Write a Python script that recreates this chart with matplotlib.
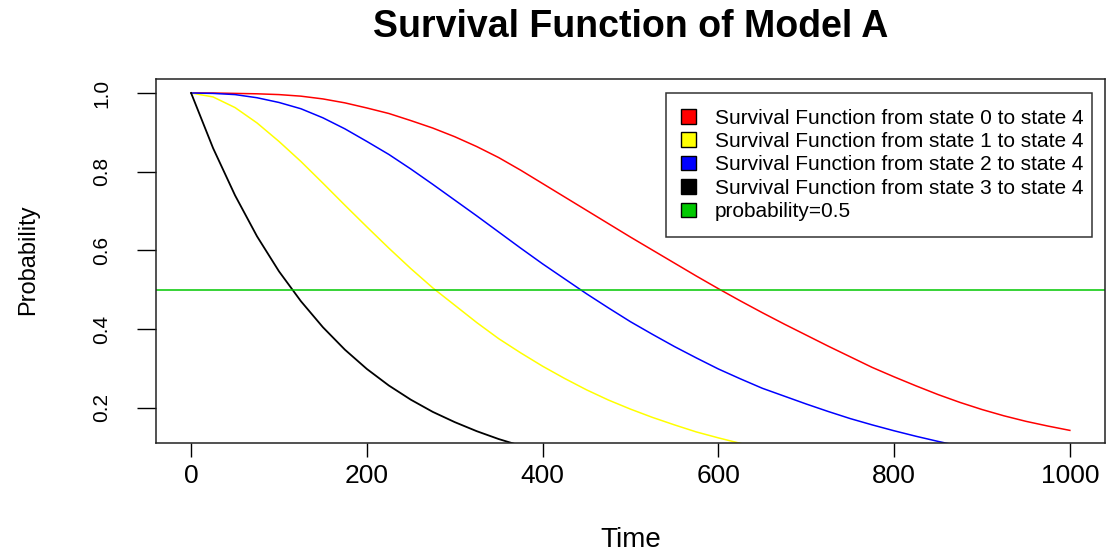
import matplotlib.pyplot as plt
from matplotlib.patches import Patch

plt.rcParams["font.family"] = ["Liberation Sans", "DejaVu Sans"]

# survival curves
t_black = [0, 25, 50, 75, 100, 125, 150, 175, 200, 225, 250, 275, 300, 325, 350, 375, 400]
s_black = [1.0, 0.860, 0.740, 0.636, 0.547, 0.471, 0.405, 0.348, 0.299, 0.257, 0.221,
           0.190, 0.164, 0.141, 0.121, 0.104, 0.090]

t_yellow = [0, 25, 50, 75, 100, 125, 150, 175, 200, 225, 250, 275, 300, 325, 350, 375,
            400, 425, 450, 475, 500, 525, 550, 575, 600, 625, 650, 675]
s_yellow = [1.0, 0.990, 0.963, 0.924, 0.877, 0.826, 0.771, 0.715, 0.660, 0.606, 0.554,
            0.505, 0.461, 0.417, 0.376, 0.340, 0.306, 0.275, 0.246, 0.220, 0.197, 0.176,
            0.157, 0.139, 0.124, 0.110, 0.098, 0.087]

t_blue = [0, 25, 50, 75, 100, 125, 150, 175, 200, 225, 250, 275, 300, 325, 350, 375, 400,
          425, 450, 475, 500, 525, 550, 575, 600, 625, 650, 675, 700, 725, 750, 775, 800,
          825, 850, 875, 900]
s_blue = [1.0, 0.999, 0.996, 0.988, 0.976, 0.960, 0.937, 0.909, 0.877, 0.844, 0.807,
          0.768, 0.728, 0.688, 0.647, 0.606, 0.566, 0.528, 0.490, 0.454, 0.419, 0.387,
          0.356, 0.327, 0.299, 0.274, 0.250, 0.230, 0.210, 0.191, 0.173, 0.157, 0.142,
          0.128, 0.115, 0.103, 0.093]

t_red = [0, 25, 50, 75, 100, 125, 150, 175, 200, 225, 250, 275, 300, 325, 350, 375, 400,
         425, 450, 475, 500, 525, 550, 575, 600, 625, 650, 675, 700, 725, 750, 775, 800,
         825, 850, 875, 900, 925, 950, 975, 1000]
s_red = [1.0, 1.0, 0.999, 0.998, 0.996, 0.992, 0.985, 0.975, 0.962, 0.948, 0.930, 0.911,
         0.889, 0.864, 0.836, 0.804, 0.770, 0.736, 0.702, 0.668, 0.634, 0.601, 0.568,
         0.535, 0.503, 0.472, 0.442, 0.413, 0.385, 0.357, 0.330, 0.303, 0.279, 0.256,
         0.234, 0.214, 0.196, 0.180, 0.166, 0.154, 0.143]

half = 0.5

labels = ["Survival Function from state 0 to state 4",
          "Survival Function from state 1 to state 4",
          "Survival Function from state 2 to state 4",
          "Survival Function from state 3 to state 4",
          "probability=0.5"]
colors = ["#ff0000", "#ffff00", "#0000ff", "#000000", "#00c800"]

fig = plt.figure(figsize=(11.1, 5.54), dpi=100)
ax = fig.add_axes([0.1405, 0.2004, 0.855, 0.657])

ax.plot(t_red, s_red, color=colors[0], lw=1.1)
ax.plot(t_yellow, s_yellow, color=colors[1], lw=1.1)
ax.plot(t_blue, s_blue, color=colors[2], lw=1.1)
ax.plot(t_black, s_black, color=colors[3], lw=1.3)
ax.axhline(half, color=colors[4], lw=1.1)

ax.set_xlim(-40, 1040)
ax.set_ylim(0.111, 1.0356)
ax.set_xticks([0, 200, 400, 600, 800, 1000])
ax.set_yticks([0.2, 0.4, 0.6, 0.8, 1.0])
ax.set_yticklabels(["0.2", "0.4", "0.6", "0.8", "1.0"], rotation=90, va="center")
ax.tick_params(axis="x", length=10, width=1, pad=5, labelsize=19)
ax.tick_params(axis="y", length=14, width=1, pad=18, labelsize=15)
for s in ax.spines.values():
    s.set_linewidth(1.1)
    s.set_color("#222222")

handles = [Patch(facecolor=c, edgecolor="black", linewidth=1) for c in colors]
leg = ax.legend(handles, labels, loc="upper left",
                bbox_to_anchor=(0.537, 0.9615, 0.449, 0.0), mode="expand",
                fontsize=15, frameon=True, fancybox=False, edgecolor="black",
                handlelength=0.7, handleheight=0.7, handletextpad=0.9,
                labelspacing=0.21, borderpad=0.75, borderaxespad=0)
leg.get_frame().set_linewidth(1.1)

fig.text(0.5685, 1 - 27 / 554, "Survival Function of Model A", ha="center",
         va="center", fontsize=27, fontweight="bold")
fig.text(28 / 1110, 1 - 260 / 554, "Probability", rotation=90, ha="center",
         va="center", fontsize=17)
fig.text(0.5685, 1 - 540 / 554, "Time", ha="center", va="center", fontsize=20)

fig.savefig("out.png", dpi=100)
